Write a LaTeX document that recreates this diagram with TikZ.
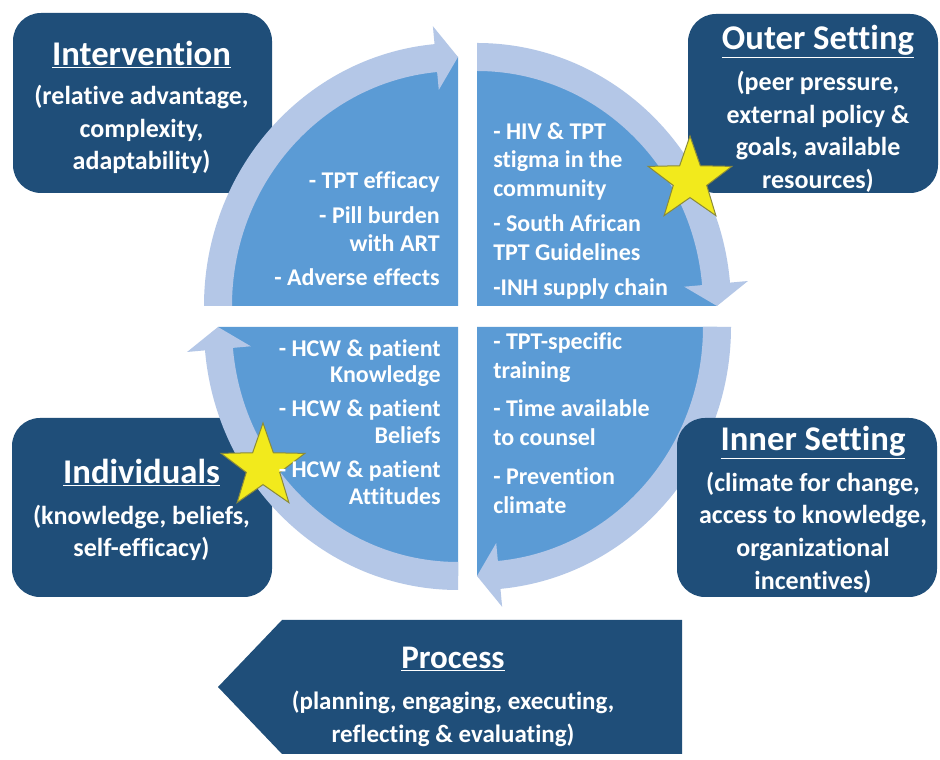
\documentclass[tikz,border=0pt]{standalone}
\usepackage{fontspec}
\setmainfont{Carlito}[Ligatures=NoCommon]
\usetikzlibrary{calc,shapes.geometric}

\definecolor{navy}{HTML}{1F4E79}
\definecolor{quadblue}{HTML}{5B9BD5}
\definecolor{bandblue}{HTML}{B4C7E7}
\definecolor{staryellow}{HTML}{F2EA1C}
\definecolor{staredge}{HTML}{8A8A3A}

% One quarter of the cycle: filled sector plus the curved arrow on its rim.
% #1,#2 corner of the sector, #3 start angle, #4 end angle (arrow tip), #5 angle of the arrowhead base
\newcommand\cyclequarter[5]{%
  \fill[quadblue] (#1,#2) -- ++(#3:240 and 249)
     arc[start angle=#3,end angle=#4,x radius=240,y radius=249] -- cycle;
  \fill[bandblue] ($(#1,#2)+(#3:254 and 263)$)
     arc[start angle=#3,end angle=#5,x radius=254,y radius=263]
     -- ($(#1,#2)+(#5:272 and 281)$) -- ($(#1,#2)+(#4:240 and 249)$)
     -- ($(#1,#2)+(#5:208 and 217)$) -- ($(#1,#2)+(#5:226 and 235)$)
     arc[start angle=#5,end angle=#3,x radius=226,y radius=235] -- cycle;
}

\newcommand\titlesize{\fontsize{26pt}{30pt}\selectfont}
\newcommand\headline[1]{{\titlesize\underline{#1}}}

\tikzset{
  domainbox/.style={fill=navy, rounded corners=21pt, inner sep=0pt},
  boxtext/.style={text=white, align=center, inner sep=0pt,
    font=\bfseries\fontsize{19.5pt}{24.5pt}\selectfont},
  quadtext/.style={text=white, inner sep=0pt,
    font=\bfseries\fontsize{18pt}{21pt}\selectfont},
  keystar/.style={star, star points=5, star point ratio=2.5, minimum size=66pt,
    inner sep=0pt, fill=staryellow, draw=staredge, line width=0.75pt},
}

\begin{document}
\begin{tikzpicture}[x=0.75pt,y=0.75pt]
\useasboundingbox[fill=white] (0,0) rectangle (940,760);

% domain boxes lying under the cycle
\node[domainbox, minimum width=194.25pt, minimum height=135pt] (intervbox) at (142.5,657) {};
\node[domainbox, minimum width=195pt, minimum height=134.25pt] (indivbox) at (142,252.5) {};
\node[domainbox, minimum width=187.5pt, minimum height=134.25pt] (outerbox) at (813,656.5) {};

% the four quarters of the cycle
\cyclequarter{458}{454}{180}{90}{95.3}
\cyclequarter{477}{454}{90}{0}{5.1}
\cyclequarter{477}{433}{360}{270}{275.3}
\cyclequarter{458}{433}{270}{180}{185.1}

\node[domainbox, minimum width=195pt, minimum height=134.25pt] (innerbox) at (807,252.5) {};

% process arrow
\fill[navy] (682,140) -- (282,140) -- (218,73) -- (282,6) -- (682,6) -- cycle;

% key stars
\node[keystar] (outerstar) at (690,580) {};
\node[keystar] (indivstar) at (263,293) {};

% domain texts
\node[boxtext] (intervtext) at (141.5,652.5) {\headline{Intervention}\\[5pt]
  (relative advantage,\\ complexity,\\ adaptability)};
\node[boxtext] (outertext) at (818,651) {\headline{Outer Setting}\\[6pt]
  (peer pressure,\\ external policy \&\\ goals, available\\ resources)};
\node[boxtext] (indivtext) at (141.5,250) {\headline{Individuals}\\[6pt]
  (knowledge, beliefs,\\ self-efficacy)};
\node[boxtext] (innertext) at (813,250.5) {\headline{Inner Setting}\\[6pt]
  (climate for change,\\ access to knowledge,\\ organizational\\ incentives)};
\node[boxtext, font=\bfseries\fontsize{18.75pt}{24.75pt}\selectfont] (processtext) at (453,63)
  {{\fontsize{24.75pt}{30pt}\selectfont\underline{Process}}\\[6pt]
  (planning, engaging, executing,\\ reflecting \& evaluating)};

% factors inside the quarters
\node[quadtext, align=right, anchor=east] (tltext) at (440,531)
  {- TPT efficacy\\[5pt] - Pill burden\\ with ART\\[5pt] - Adverse effects};
\node[quadtext, align=left, anchor=west, font=\bfseries\fontsize{18pt}{21.5pt}\selectfont] (trtext) at (493,549)
  {- HIV \& TPT\\ stigma in the\\ community\\[5pt] - South African\\ TPT Guidelines\\[5pt] -INH supply chain};
\node[quadtext, align=right, anchor=east, font=\bfseries\fontsize{18pt}{20pt}\selectfont] (bltext) at (441,338)
  {- HCW \& patient\\ Knowledge\\[5.5pt] - HCW \& patient\\ Beliefs\\[5.5pt] - HCW \& patient\\ Attitudes};
\node[quadtext, align=left, anchor=west, font=\bfseries\fontsize{18pt}{21.75pt}\selectfont] (brtext) at (493,337)
  {- TPT-specific\\ training\\[7pt] - Time available\\ to counsel\\[7pt] - Prevention\\ climate};
\end{tikzpicture}
\end{document}
